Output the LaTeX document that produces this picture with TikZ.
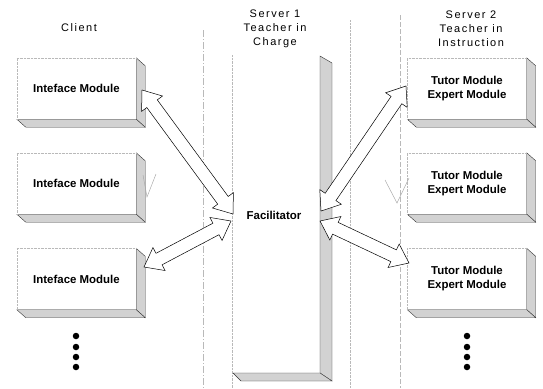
\documentclass[tikz,border=0pt]{standalone}
\usepackage{fontspec}
\setmainfont{Liberation Sans}
\newfontfamily\titlefont[LetterSpace=14]{Liberation Sans}
\usetikzlibrary{calc}
\tikzset{
  face/.style={rectangle, minimum width=119bp, minimum height=61bp, inner sep=0pt,
    font=\fontsize{11.5}{14}\selectfont\bfseries, align=center},
  side/.style={fill=gray!35, draw=black!80, line width=0.4bp},
  faceedge/.style={draw=gray!55, densely dotted, line width=0.4bp},
  guide/.style={draw=gray!55, line width=0.4bp},
  barrow/.style={draw=black, fill=white, line width=0.5bp, line join=miter},
  title/.style={font=\titlefont\fontsize{11}{14}\selectfont, align=center},
  blob/.style={circle, fill=black, inner sep=0pt, minimum size=6.5bp},
  chev/.style={draw=gray!70, line width=0.45bp},
}
\newcommand\boxsides[1]{%
  \path[side] (#1.north east) -- ++(9,8) -- ($(#1.south east)+(9,8)$) -- (#1.south east) -- cycle;
  \path[side] (#1.south west) -- (#1.south east) -- ($(#1.south east)+(9,8)$) -- ($(#1.south west)+(9,8)$) -- cycle;
  \path[faceedge] (#1.south west) -- (#1.north west) -- (#1.north east);
}
\newcommand\blockarr[2]{%
  \coordinate (ba1) at ($(#1)!17bp!(#2)$);
  \coordinate (ba2) at ($(#2)!17bp!(#1)$);
  \path[barrow] (#1) -- ($(ba1)!13bp!90:(#2)$) -- ($(ba1)!6.5bp!90:(#2)$)
    -- ($(ba2)!6.5bp!-90:(#1)$) -- ($(ba2)!13bp!-90:(#1)$) -- (#2)
    -- ($(ba2)!13bp!90:(#1)$) -- ($(ba2)!6.5bp!90:(#1)$)
    -- ($(ba1)!6.5bp!-90:(#2)$) -- ($(ba1)!13bp!-90:(#2)$) -- cycle;
}
\begin{document}
\begin{tikzpicture}[x=1bp,y=-1bp]
\path[fill=white] (0,0) rectangle (543,388);
\useasboundingbox (0,0) rectangle (543,388);

% guide lines
\path[guide, dash pattern=on 7bp off 2bp on 1bp off 2bp] (203,30) -- (203,388);
\path[guide, densely dotted] (232,55) -- (232,388);
\path[guide, densely dotted] (350,20) -- (350,388);
\path[guide, dash pattern=on 5bp off 2bp] (400,15) -- (400,388);

% titles
\node[title] (client) at (79,28) {Client};
\node[title] (srv1) at (275,29) {Server 1\\Teacher in\\Charge};
\node[title] (srv2) at (471,29) {Server 2\\Teacher in\\Instruction};

% server 1 bar
\path[side] (320,56) -- (332,63) -- (332,381) -- (320,373) -- cycle;
\path[side] (233,373) -- (320,373) -- (332,381) -- (241,381) -- cycle;

% client boxes
\node[face] (c1) at (76.5,88.5) {Inteface Module};
\node[face] (c2) at (76.5,183.5) {Inteface Module};
\node[face] (c3) at (76.5,279) {Inteface Module};
\boxsides{c1}\boxsides{c2}\boxsides{c3}

% server 2 boxes
\node[face] (s1) at (467,88.5) {Tutor Module\\Expert Module};
\node[face] (s2) at (467,183.5) {Tutor Module\\Expert Module};
\node[face] (s3) at (467,279) {Tutor Module\\Expert Module};
\boxsides{s1}\boxsides{s2}\boxsides{s3}

% facilitator
\node[font=\fontsize{11.5}{14}\selectfont\bfseries] (fac) at (274,215) {Facilitator};

% arrow end points
\coordinate (a1) at (142,90);
\coordinate (f1) at (233,214);
\coordinate (a3) at (144,267);
\coordinate (f3) at (231,221);
\coordinate (b1) at (406,86);
\coordinate (g1) at (321,211);
\coordinate (b3) at (409,263);
\coordinate (g3) at (320,221);

\blockarr{f3}{a3}
\blockarr{f1}{a1}
\blockarr{g3}{b3}
\blockarr{g1}{b1}

% small arrow tips beside the middle boxes
\path[chev] (143,175) -- (147,197) -- (156,174);
\path[chev] (385,180) -- (397,203) -- (409,178);

% continuation dots
\foreach \yy [count=\i] in {336,347,357,367}{
  \node[blob] (cd\i) at (76,\yy) {};
  \node[blob] (sd\i) at (467,\yy) {};
}
\end{tikzpicture}
\end{document}
